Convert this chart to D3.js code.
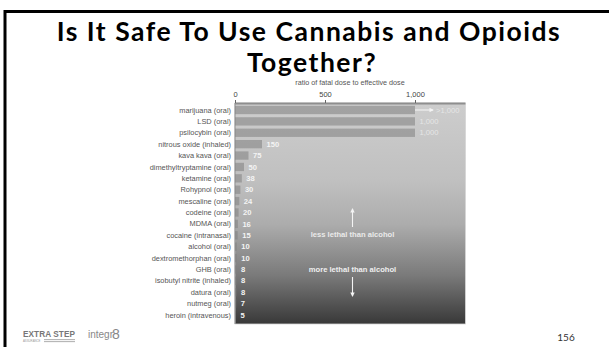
<!DOCTYPE html>
<html>
<head>
<meta charset="utf-8">
<script src="https://cdn.jsdelivr.net/npm/d3@7/dist/d3.min.js"></script>
<style>
  html, body { margin: 0; padding: 0; background: #fff; }
  svg { display: block; }
</style>
</head>
<body>
<svg id="slide" width="609" height="347"></svg>
<script>
// Ratio of fatal dose to effective dose, by substance and route
const drugs = [
  "marijuana (oral)", "LSD (oral)", "psilocybin (oral)", "nitrous oxide (inhaled)",
  "kava kava (oral)", "dimethyltryptamine (oral)", "ketamine (oral)", "Rohypnol (oral)",
  "mescaline (oral)", "codeine (oral)", "MDMA (oral)", "cocaine (intranasal)",
  "alcohol (oral)", "dextromethorphan (oral)", "GHB (oral)", "isobutyl nitrite (inhaled)",
  "datura (oral)", "nutmeg (oral)", "heroin (intravenous)"
];
const ratios = [1000, 1000, 1000, 150, 75, 50, 38, 30, 24, 20, 16, 15, 10, 10, 8, 8, 8, 7, 5];
const valueLabels = [">1,000", "1,000", "1,000", "150", "75", "50", "38", "30", "24", "20",
  "16", "15", "10", "10", "8", "8", "8", "7", "5"];
const tickValues = [0, 500, 1000];
const titleLines = ["Is It Safe To Use Cannabis and Opioids", "Together?"];

const svg = d3.select("#slide");
const chartFont = "'Liberation Sans', Arial, Helvetica, sans-serif";

// slide frame
svg.append("path")
  .attr("d", "M5,347 V11.5 H609")
  .attr("fill", "none").attr("stroke", "#000").attr("stroke-width", 3);

// title: two centred lines, slightly letter-spaced
const title = svg.append("g").attr("font-family", "Lato, 'DejaVu Sans', sans-serif")
  .attr("font-weight", 700).attr("fill", "#000").attr("text-anchor", "middle")
  .attr("font-size", 26.5);
const t1 = title.append("text").attr("x", 309).attr("y", 41).text(titleLines[0]);
const natural = t1.node().getComputedTextLength();
const spacing = Math.max(0, (503 - natural) / (titleLines[0].length - 1));
t1.attr("letter-spacing", spacing);
title.append("text").attr("x", 312).attr("y", 71.5).attr("letter-spacing", spacing).text(titleLines[1]);

// scales
const x = d3.scaleLinear().domain([0, 1280]).range([235, 465.4]);
const y = d3.scaleBand().domain(drugs).range([104.3, 320.7]).paddingInner(0.27).paddingOuter(0.135);
const plotTop = 103, plotBottom = 324;

// background gradient
const defs = svg.append("defs");
const grad = defs.append("linearGradient").attr("id", "bg")
  .attr("x1", 0).attr("y1", 0).attr("x2", 0).attr("y2", 1);
[[0, "#cdcdcd"], [0.35, "#c0c0c0"], [0.55, "#acacac"], [0.78, "#7a7a7a"], [1, "#383838"]]
  .forEach(([o, c]) => grad.append("stop").attr("offset", o).attr("stop-color", c));

svg.append("rect")
  .attr("x", x(0)).attr("y", plotTop)
  .attr("width", x.range()[1] - x(0)).attr("height", plotBottom - plotTop)
  .attr("fill", "url(#bg)")
  .attr("stroke", "#d4d4d4").attr("stroke-width", 0.8);

// top rule and left rule of the plot
svg.append("rect").attr("x", x(0)).attr("y", plotTop - 0.5)
  .attr("width", x.range()[1] - x(0)).attr("height", 2).attr("fill", "#8e8e8e");
svg.append("line").attr("x1", x(0)).attr("x2", x(0)).attr("y1", plotTop).attr("y2", plotBottom)
  .attr("stroke", "#8a8a8a").attr("stroke-width", 1);

// axis
const axis = d3.axisTop(x).tickValues(tickValues).tickFormat(d3.format(",")).tickSize(3).tickPadding(3);
const gAxis = svg.append("g").attr("transform", `translate(0,${plotTop})`).call(axis);
gAxis.select(".domain").remove();
gAxis.selectAll(".tick line").attr("stroke", "#666");
gAxis.selectAll(".tick text").attr("font-family", chartFont).attr("font-size", 7.5).attr("fill", "#444");

svg.append("text")
  .attr("x", 350).attr("y", 84.5).attr("text-anchor", "middle")
  .attr("font-family", chartFont).attr("font-size", 7.2).attr("fill", "#555")
  .text("ratio of fatal dose to effective dose");

// category labels
svg.append("g").selectAll("text").data(drugs).join("text")
  .attr("x", x(0) - 4).attr("y", d => y(d) + y.bandwidth() / 2)
  .attr("dy", "0.35em").attr("text-anchor", "end")
  .attr("font-family", chartFont).attr("font-size", 7.4).attr("fill", "#555")
  .text(d => d);

// bars
svg.append("g").selectAll("rect").data(drugs).join("rect")
  .attr("x", x(0)).attr("y", d => y(d))
  .attr("width", (d, i) => x(ratios[i]) - x(0)).attr("height", y.bandwidth())
  .attr("fill", "#808080").attr("fill-opacity", 0.55);

// value labels
svg.append("g").selectAll("text").data(drugs).join("text")
  .attr("x", (d, i) => i === 0 ? x(ratios[i]) + 21 : x(ratios[i]) + 4.5)
  .attr("y", d => y(d) + y.bandwidth() / 2)
  .attr("dy", "0.35em")
  .attr("font-family", chartFont).attr("font-size", 7.6)
  .attr("fill", (d, i) => ratios[i] >= 1000 ? "#e6e6e6" : "#f4f4f4")
  .attr("font-weight", (d, i) => ratios[i] >= 1000 ? 400 : 700)
  .text((d, i) => valueLabels[i]);

// arrow helper
defs.append("marker").attr("id", "head").attr("viewBox", "0 0 10 10")
  .attr("refX", 8).attr("refY", 5).attr("markerWidth", 4).attr("markerHeight", 4)
  .attr("orient", "auto")
  .append("path").attr("d", "M0,0 L10,5 L0,10 Z").attr("fill", "#f4f4f4");

function arrow(x1, y1, x2, y2) {
  svg.append("line").attr("x1", x1).attr("y1", y1).attr("x2", x2).attr("y2", y2)
    .attr("stroke", "#f4f4f4").attr("stroke-width", 1.1).attr("marker-end", "url(#head)");
}

// marijuana continues past the axis
const my = y(drugs[0]) + y.bandwidth() / 2;
arrow(x(1000), my, x(1000) + 18, my);

// lethality annotations
const ax = 352.5;
arrow(ax, 227, ax, 209);
arrow(ax, 277, ax, 296);
svg.append("text").attr("x", ax).attr("y", 234).attr("dy", "0.35em")
  .attr("text-anchor", "middle").attr("font-family", chartFont).attr("font-size", 7.6)
  .attr("font-weight", 700).attr("fill", "#eaeaea").text("less lethal than alcohol");
svg.append("text").attr("x", ax).attr("y", 269.5).attr("dy", "0.35em")
  .attr("text-anchor", "middle").attr("font-family", chartFont).attr("font-size", 7.6)
  .attr("font-weight", 700).attr("fill", "#f0f0f0").text("more lethal than alcohol");

// footer
const foot = svg.append("g").attr("font-family", chartFont);
foot.append("text").attr("x", 23).attr("y", 337).attr("font-size", 8.2).attr("font-weight", 700)
  .attr("fill", "#777").attr("textLength", 52).text("EXTRA STEP");
foot.append("text").attr("x", 23).attr("y", 342).attr("font-size", 2.8)
  .attr("fill", "#999").text("ASSURANCE");
foot.append("rect").attr("x", 44).attr("y", 339.3).attr("width", 31).attr("height", 0.8).attr("fill", "#999");
foot.append("rect").attr("x", 44).attr("y", 341.3).attr("width", 31).attr("height", 0.8).attr("fill", "#999");
foot.append("text").attr("x", 88).attr("y", 338).attr("font-size", 10).attr("fill", "#888")
  .text("integr");
foot.append("text").attr("x", 112).attr("y", 339).attr("font-size", 14).attr("fill", "#888")
  .text("8");
foot.append("text").attr("x", 566).attr("y", 341).attr("text-anchor", "middle")
  .attr("font-family", "Lato, 'DejaVu Sans', sans-serif").attr("font-size", 10).attr("fill", "#333")
  .text("156");
</script>
</body>
</html>
